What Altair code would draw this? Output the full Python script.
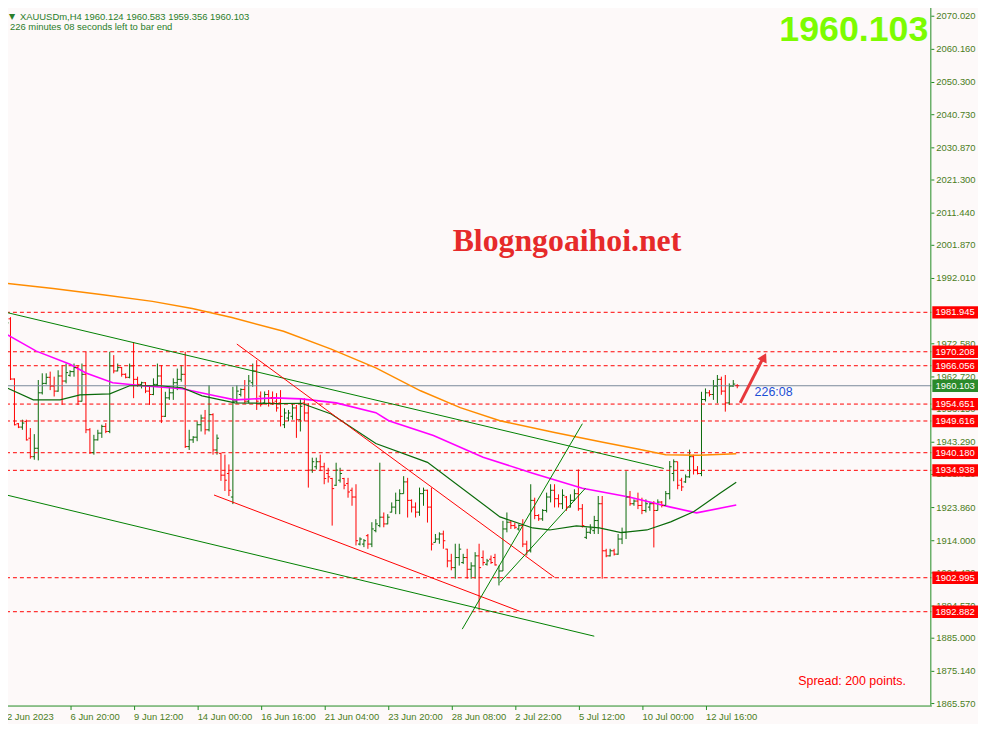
import altair as alt
import pandas as pd

# ---------------- data ----------------
OPEN = [1976.5, 1980.0, 1962.1, 1948.8, 1947.8, 1949.5, 1944.5, 1939.0, 1941.5, 1958.0,
        1960.8, 1962.6, 1960.0, 1958.5, 1963.0, 1961.5, 1963.2, 1964.3, 1965.5, 1955.5,
        1963.5, 1947.0, 1940.2, 1944.0, 1946.0, 1948.0, 1946.5, 1966.0, 1964.5, 1965.5,
        1963.5, 1962.6, 1966.0, 1962.0, 1960.5, 1961.0, 1958.5, 1957.5, 1960.5, 1963.0,
        1951.0, 1956.5, 1958.0, 1961.0, 1962.0, 1963.5, 1942.0, 1944.0, 1944.8, 1948.5,
        1950.5, 1947.0, 1951.5, 1941.0, 1940.0, 1933.5, 1934.0, 1927.0, 1955.5, 1957.5,
        1959.0, 1955.5, 1961.0, 1964.5, 1957.0, 1955.0, 1957.5, 1956.5, 1955.5, 1955.0,
        1948.5, 1950.5, 1951.0, 1953.5, 1950.0, 1955.0, 1952.0, 1935.0, 1936.0, 1937.5,
        1936.0, 1934.0, 1932.5, 1930.5, 1932.0, 1932.5, 1931.0, 1929.0, 1927.0, 1913.0,
        1913.0, 1915.5, 1913.0, 1917.0, 1918.5, 1921.0, 1919.0, 1922.5, 1924.0, 1926.0,
        1928.0, 1931.5, 1926.0, 1924.0, 1922.5, 1928.0, 1929.0, 1924.0, 1913.5, 1914.5,
        1916.0, 1911.5, 1908.0, 1906.0, 1909.0, 1907.5, 1909.0, 1905.5, 1906.5, 1909.5,
        1909.0, 1907.0, 1908.5, 1909.0, 1903.0, 1905.0, 1917.5, 1919.5, 1918.5, 1917.5,
        1918.5, 1913.0, 1911.0, 1926.0, 1921.5, 1920.5, 1923.0, 1927.0, 1929.0, 1926.5,
        1925.0, 1927.0, 1924.0, 1926.0, 1928.0, 1923.5, 1915.0, 1916.5, 1917.0, 1920.0,
        1925.0, 1911.0, 1909.5, 1911.0, 1910.0, 1914.5, 1916.5, 1927.0, 1925.0, 1925.8,
        1924.5, 1923.0, 1924.0, 1925.0, 1923.0, 1925.5, 1924.5, 1928.0, 1934.0, 1937.5,
        1932.0, 1931.5, 1933.0, 1939.0, 1935.0, 1934.0, 1956.0, 1958.0, 1957.5, 1960.0,
        1962.0, 1958.5, 1955.0, 1960.0, 1960.124]
HIGH = [1981.0, 1980.5, 1962.3, 1949.0, 1950.0, 1950.0, 1947.5, 1945.7, 1961.8, 1963.8,
        1963.8, 1964.3, 1962.8, 1964.7, 1966.2, 1966.7, 1964.7, 1966.7, 1966.2, 1966.7,
        1970.2, 1947.5, 1945.5, 1947.0, 1948.5, 1949.0, 1970.2, 1969.2, 1966.7, 1965.7,
        1963.8, 1966.7, 1973.1, 1962.8, 1961.3, 1961.2, 1959.8, 1962.3, 1966.7, 1966.2,
        1958.3, 1959.8, 1962.3, 1965.2, 1966.2, 1970.2, 1947.0, 1945.1, 1949.5, 1951.5,
        1952.9, 1960.3, 1951.9, 1945.6, 1940.1, 1939.6, 1936.7, 1959.8, 1960.3, 1959.3,
        1961.8, 1963.3, 1966.7, 1967.7, 1958.4, 1958.4, 1958.8, 1958.4, 1957.9, 1958.8,
        1953.4, 1952.9, 1954.9, 1954.4, 1956.4, 1956.4, 1954.9, 1938.7, 1938.7, 1939.6,
        1937.2, 1935.7, 1932.7, 1937.2, 1935.7, 1932.7, 1932.7, 1929.8, 1930.8, 1915.0,
        1914.5, 1916.0, 1919.5, 1920.4, 1937.2, 1922.4, 1921.9, 1925.4, 1928.3, 1929.3,
        1933.2, 1932.7, 1926.3, 1925.4, 1929.8, 1929.8, 1929.2, 1929.8, 1916.0, 1916.5,
        1917.0, 1911.6, 1910.1, 1913.1, 1913.1, 1910.1, 1911.6, 1907.6, 1910.6, 1913.1,
        1911.1, 1908.6, 1909.6, 1910.1, 1906.6, 1919.9, 1922.4, 1919.9, 1919.4, 1918.9,
        1920.4, 1914.0, 1930.8, 1926.8, 1921.9, 1923.4, 1928.3, 1930.8, 1930.8, 1927.8,
        1929.3, 1927.3, 1927.8, 1929.3, 1935.2, 1924.9, 1917.9, 1918.9, 1921.4, 1927.3,
        1927.3, 1911.6, 1911.6, 1911.6, 1916.0, 1917.9, 1934.7, 1928.8, 1926.3, 1928.3,
        1926.8, 1926.3, 1925.4, 1925.8, 1926.3, 1925.8, 1928.8, 1937.7, 1938.2, 1937.5,
        1932.7, 1933.7, 1941.1, 1939.6, 1936.2, 1958.3, 1959.3, 1958.8, 1961.8, 1963.3,
        1962.8, 1963.3, 1960.8, 1961.8, 1960.583]
LOW = [1975.1, 1961.8, 1948.3, 1947.5, 1947.0, 1943.8, 1938.4, 1938.1, 1937.9, 1957.5,
       1960.5, 1958.8, 1956.9, 1958.3, 1954.4, 1960.8, 1962.8, 1962.8, 1954.4, 1955.4,
       1946.0, 1939.8, 1939.6, 1943.8, 1944.6, 1946.0, 1946.0, 1963.8, 1964.4, 1962.8,
       1962.3, 1962.3, 1956.4, 1959.8, 1959.3, 1957.9, 1954.4, 1957.3, 1959.8, 1949.0,
       1950.8, 1955.9, 1955.9, 1958.8, 1961.3, 1941.6, 1941.0, 1943.1, 1943.6, 1946.5,
       1945.6, 1946.5, 1939.6, 1939.6, 1931.8, 1928.8, 1927.3, 1924.9, 1954.9, 1956.9,
       1954.9, 1954.9, 1959.8, 1952.9, 1953.9, 1954.9, 1953.9, 1954.4, 1952.4, 1948.0,
       1947.5, 1949.5, 1950.0, 1944.6, 1946.5, 1949.5, 1929.8, 1934.2, 1935.2, 1934.7,
       1930.8, 1931.3, 1918.5, 1930.3, 1931.3, 1929.3, 1926.8, 1924.4, 1912.6, 1912.6,
       1912.1, 1911.6, 1912.1, 1916.5, 1918.0, 1918.0, 1918.9, 1922.4, 1921.9, 1921.9,
       1928.0, 1920.9, 1922.4, 1920.9, 1921.4, 1924.4, 1919.4, 1911.1, 1913.5, 1913.1,
       1911.6, 1906.1, 1905.2, 1902.7, 1906.6, 1907.1, 1902.7, 1902.7, 1902.7, 1893.3,
       1906.6, 1906.6, 1907.1, 1906.6, 1900.7, 1905.0, 1916.5, 1917.5, 1917.5, 1917.0,
       1912.1, 1909.6, 1910.5, 1920.4, 1919.9, 1919.9, 1922.4, 1925.4, 1923.9, 1923.9,
       1923.4, 1922.9, 1923.9, 1925.8, 1922.9, 1917.9, 1914.5, 1916.0, 1916.0, 1916.0,
       1902.7, 1909.1, 1909.3, 1909.6, 1909.8, 1913.0, 1914.5, 1924.4, 1924.4, 1923.4,
       1921.9, 1922.4, 1922.9, 1912.0, 1923.0, 1923.9, 1924.4, 1926.3, 1931.7, 1929.3,
       1928.8, 1931.2, 1932.7, 1933.7, 1933.7, 1933.2, 1955.4, 1956.9, 1955.9, 1954.9,
       1957.4, 1952.4, 1954.4, 1959.8, 1959.356]
CLOSE = [1978.8, 1962.1, 1948.5, 1947.8, 1949.0, 1944.0, 1939.0, 1941.5, 1958.0, 1960.8,
         1962.6, 1960.0, 1958.5, 1963.0, 1961.5, 1964.0, 1964.3, 1965.5, 1955.5, 1963.5,
         1947.0, 1940.2, 1944.0, 1946.0, 1948.0, 1946.5, 1966.0, 1964.5, 1965.5, 1963.5,
         1962.6, 1966.0, 1962.0, 1960.5, 1961.0, 1958.5, 1957.5, 1960.5, 1963.0, 1951.0,
         1956.5, 1958.0, 1961.0, 1962.0, 1963.5, 1942.0, 1944.0, 1944.8, 1948.5, 1950.5,
         1947.0, 1951.5, 1941.0, 1944.5, 1933.5, 1932.0, 1929.0, 1955.5, 1958.5, 1959.0,
         1955.5, 1961.5, 1964.5, 1955.5, 1954.5, 1957.5, 1955.0, 1955.0, 1953.5, 1951.0,
         1952.0, 1952.0, 1953.5, 1950.0, 1954.0, 1952.0, 1935.0, 1937.5, 1937.5, 1936.0,
         1932.5, 1933.0, 1929.5, 1935.0, 1934.0, 1930.5, 1928.5, 1927.0, 1914.0, 1914.5,
         1914.0, 1913.0, 1917.5, 1919.0, 1921.0, 1919.0, 1921.0, 1924.0, 1926.0, 1928.0,
         1931.5, 1926.0, 1924.0, 1922.5, 1928.0, 1929.0, 1924.0, 1913.0, 1914.5, 1916.0,
         1914.0, 1908.0, 1906.0, 1909.0, 1911.5, 1909.0, 1905.5, 1906.5, 1909.5, 1906.0,
         1907.5, 1908.0, 1907.5, 1906.8, 1905.0, 1917.5, 1919.5, 1918.5, 1918.0, 1918.5,
         1913.0, 1911.0, 1926.0, 1921.5, 1920.5, 1923.0, 1927.0, 1929.0, 1926.5, 1925.0,
         1927.5, 1924.0, 1926.0, 1928.0, 1923.5, 1918.5, 1916.5, 1917.5, 1920.0, 1925.0,
         1911.0, 1909.5, 1911.0, 1910.0, 1914.5, 1916.5, 1927.0, 1925.0, 1925.8, 1924.5,
         1923.0, 1925.0, 1925.0, 1923.0, 1925.5, 1924.5, 1928.0, 1936.0, 1937.5, 1930.5,
         1930.0, 1933.0, 1939.0, 1935.0, 1934.0, 1956.0, 1958.0, 1957.5, 1960.0, 1962.0,
         1958.5, 1955.0, 1960.0, 1960.6, 1960.103]

LEVELS = [1981.945, 1970.208, 1966.056, 1954.651, 1949.616, 1940.180, 1934.938, 1902.995, 1892.882]
CURRENT = 1960.103

ORANGE_I = [0, 11.75, 24.25, 36.75, 46.75, 56.75, 69.75, 81.75, 93, 104.25, 114.25, 124.25,
            138, 150.5, 159.25, 166, 174.25, 183.75]
ORANGE_P = [1990.6, 1989.0, 1987.2, 1985.2, 1983.1, 1980.4, 1976.3, 1971.0, 1965.4, 1958.6,
            1953.6, 1949.7, 1946.2, 1943.2, 1941.2, 1939.6, 1939.4, 1939.9]
MAGENTA_I = [0, 7.5, 16, 20, 26.75, 34.25, 44.25, 52.5, 57.5, 67.5, 74.25, 83, 93, 96.25,
             107.5, 120, 132.5, 145, 156.75, 167.25, 173.75, 183.75]
MAGENTA_P = [1975.4, 1970.4, 1966.5, 1963.9, 1961.0, 1960.1, 1959.2, 1957.1, 1955.9, 1956.5,
             1956.2, 1955.0, 1952.1, 1949.7, 1945.3, 1938.8, 1934.1, 1929.6, 1927.0, 1924.0,
             1922.3, 1924.6]
GREENMA_I = [0, 6.75, 13.5, 18.5, 26, 31, 38.5, 44.25, 49.25, 57.5, 68.5, 74.25, 81.75, 93,
             106, 124.25, 132.5, 136.75, 143.5, 149.25, 154.75, 161.25, 167.25, 173, 179.75,
             183.75]
GREENMA_P = [1959.5, 1955.9, 1955.9, 1957.4, 1957.7, 1960.1, 1960.1, 1959.5, 1957.1, 1955.0,
             1954.8, 1954.9, 1951.7, 1942.9, 1937.3, 1921.1, 1917.8, 1917.2, 1918.4, 1917.8,
             1916.4, 1917.2, 1919.6, 1922.6, 1928.2, 1931.4]

# trend lines: (colour key, start bar, start price, end bar, end price)
TRENDS = [
    ("g", 0.0, 1981.9, 165.5, 1935.5),
    ("g", 0.0, 1927.6, 148.0, 1885.6),
    ("r", 58.0, 1972.5, 138.0, 1903.1),
    ("r", 52.25, 1927.6, 129.25, 1893.0),
    ("g", 114.75, 1887.7, 145.0, 1948.8),
    ("g", 124.25, 1901.6, 145.75, 1929.6),
]
ARROW_I = [184.75, 190.25]
ARROW_P = [1955.0, 1967.75]
ARROW_HEAD = (190.75, 1968.6)

Y_TICKS = [2070.020, 2060.160, 2050.300, 2040.730, 2030.870, 2021.300, 2011.440, 2001.870,
           1992.010, 1972.580, 1962.720, 1953.150, 1943.290, 1933.720, 1923.860,
           1914.000, 1904.430, 1894.570, 1885.000, 1875.140, 1865.570]
X_TICKS = [0, 16, 32, 48, 64, 80, 96, 112, 128, 144, 160, 176]
X_LABELS = ["2 Jun 2023", "6 Jun 20:00", "9 Jun 12:00", "14 Jun 00:00", "16 Jun 16:00",
            "21 Jun 04:00", "23 Jun 20:00", "28 Jun 08:00", "2 Jul 22:00", "5 Jul 12:00",
            "10 Jul 00:00", "12 Jul 16:00"]

# ---------------- styling ----------------
W, H = 932, 707
XDOM = [-0.125, 232.875]
YDOM = [1864.97, 2073.77]
BG = "#fdf9f9"
AX = "#228b22"
LBL = "#4b7d1c"
UP = "#0a6a0a"
DN = "#ff0000"
F = "Liberation Sans"

xs = alt.Scale(domain=XDOM, nice=False, zero=False)
ys = alt.Scale(domain=YDOM, nice=False, zero=False)

label_expr = "[" + ",".join("'%s'" % s for s in X_LABELS) + "][round(datum.value/16)]"
xaxis = alt.Axis(values=X_TICKS, labelExpr=label_expr, orient="bottom", tickSize=4,
                 tickColor=AX, domainColor=AX, labelColor=LBL, labelFont=F, labelFontSize=9.5,
                 labelAlign="left", labelPadding=2, grid=False, title=None, labelFlush=False,
                 labelOverlap=False, labelBound=False, zindex=0)

n = len(CLOSE)
bars = pd.DataFrame({"i": list(range(n)), "o": OPEN, "h": HIGH, "l": LOW, "c": CLOSE})
bars["col"] = [UP if c >= o else DN for o, c in zip(OPEN, CLOSE)]
color = alt.Color("col:N", scale=None)

hl = alt.Chart(bars).mark_rule(strokeWidth=1).encode(
    x=alt.X("i:Q", scale=xs, axis=xaxis),
    y=alt.Y("h:Q", scale=ys, axis=None), y2="l:Q", color=color)
open_t = alt.Chart(bars).transform_calculate(a="datum.i-0.5").mark_rule(strokeWidth=1).encode(
    x=alt.X("a:Q", scale=xs), x2="i:Q", y=alt.Y("o:Q", scale=ys), color=color)
close_t = alt.Chart(bars).transform_calculate(b="datum.i+0.5").mark_rule(strokeWidth=1).encode(
    x=alt.X("i:Q", scale=xs), x2="b:Q", y=alt.Y("c:Q", scale=ys), color=color)

# right-hand price scale drawn with marks
yt = pd.DataFrame({"p": Y_TICKS, "t": ["%.3f" % v for v in Y_TICKS]})
y_domain = alt.Chart(pd.DataFrame({"a": [0]})).mark_rule(color=AX, strokeWidth=1).encode(
    x=alt.value(W - 0.5), y=alt.value(0), y2=alt.value(H))
y_ticks = alt.Chart(yt).mark_rule(color=AX, strokeWidth=1).encode(
    x=alt.value(W), x2=alt.value(W + 3), y=alt.Y("p:Q", scale=ys))
y_labels = alt.Chart(yt).mark_text(font=F, fontSize=9.5, color=LBL, align="left",
                                   baseline="middle").encode(
    x=alt.value(W + 5), y=alt.Y("p:Q", scale=ys), text="t:N")

# horizontal levels
lv = pd.DataFrame({"p": LEVELS})
levels = alt.Chart(lv).mark_rule(color="#ff0000", strokeWidth=1, strokeDash=[4, 3]).encode(
    x=alt.value(0), x2=alt.value(W), y=alt.Y("p:Q", scale=ys))
cur = alt.Chart(pd.DataFrame({"p": [CURRENT]})).mark_rule(color="#7a8a9a", strokeWidth=1).encode(
    x=alt.value(0), x2=alt.value(W), y=alt.Y("p:Q", scale=ys))


def line(ii, pp, col, sw):
    return alt.Chart(pd.DataFrame({"i": ii, "p": pp})).mark_line(color=col, strokeWidth=sw).encode(
        x=alt.X("i:Q", scale=xs), y=alt.Y("p:Q", scale=ys), order="i:Q")


orange = line(ORANGE_I, ORANGE_P, "#ff8c00", 1.5)
magenta = line(MAGENTA_I, MAGENTA_P, "#ff00ff", 1.6)
greenma = line(GREENMA_I, GREENMA_P, "#0a6a0a", 1.2)

tl = []
for cc, i0, p0, i1, p1 in TRENDS:
    tl.append(line([i0, i1], [p0, p1], "#008000" if cc == "g" else "#ff0000", 1))

arrow = line(ARROW_I, ARROW_P, "#e8383c", 3)
head = alt.Chart(pd.DataFrame({"i": [ARROW_HEAD[0]], "p": [ARROW_HEAD[1]]})).mark_point(
    shape="triangle-up", filled=True, size=110, angle=27, color="#e8383c", opacity=1).encode(
    x=alt.X("i:Q", scale=xs), y=alt.Y("p:Q", scale=ys))

# price boxes on the axis
bx = pd.DataFrame({"p": LEVELS + [CURRENT],
                   "t": ["%.3f" % v for v in LEVELS + [CURRENT]],
                   "col": ["#ff0000"] * len(LEVELS) + ["#2a8a2a"]})
boxes = alt.Chart(bx).mark_point(shape="M-1,-0.27H1V0.27H-1Z", filled=True, size=2116,
                                 opacity=1, strokeWidth=0).encode(
    x=alt.value(956), y=alt.Y("p:Q", scale=ys), color=alt.Color("col:N", scale=None))
box_txt = alt.Chart(bx).mark_text(font=F, fontSize=9.5, color="white", align="center",
                                  baseline="middle").encode(
    x=alt.value(956), y=alt.Y("p:Q", scale=ys), text="t:N")

# frame left edge
left_edge = alt.Chart(pd.DataFrame({"a": [0]})).mark_rule(color=AX, strokeWidth=1).encode(
    x=alt.value(0.5), y=alt.value(0), y2=alt.value(H))


def txt(s, x, y, size, col, align="left", weight="normal", font=F, baseline="alphabetic"):
    return alt.Chart(pd.DataFrame({"t": [s]})).mark_text(
        font=font, fontSize=size, color=col, align=align, fontWeight=weight,
        baseline=baseline).encode(x=alt.value(x), y=alt.value(y), text="t:N")


texts = [
    txt("\u25bc", 6, 15, 8, "#2a7d2a", align="center", font="DejaVu Sans"),
    txt("XAUUSDm,H4  1960.124 1960.583 1959.356 1960.103", 14, 16, 9.5, "#2a7d2a"),
    txt("226 minutes 08 seconds left to bar end", 4, 27, 9.5, "#2a7d2a"),
    txt("1960.103", 929, 38, 36, "#7cfc00", align="right", weight="bold"),
    txt("Blogngoaihoi.net", 565, 249, 32, "#e62a2a", align="center", weight="bold",
        font="Liberation Serif"),
    txt("Spread: 200 points.", 798, 686, 12.5, "#ff0000"),
    txt("226:08", 754, 395, 12.5, "#1c4fd6"),
]

chart = alt.layer(
    hl, levels, cur, orange, magenta, greenma, *tl, open_t, close_t, arrow, head,
    y_domain, y_ticks, y_labels, boxes, box_txt, left_edge, *texts
).properties(
    width=W, height=H, background=BG,
    padding={"left": -5, "top": -8, "right": 0, "bottom": 0}
).configure_view(stroke=None)

chart.save("out.html", embed_options={"renderer": "svg", "actions": False})
